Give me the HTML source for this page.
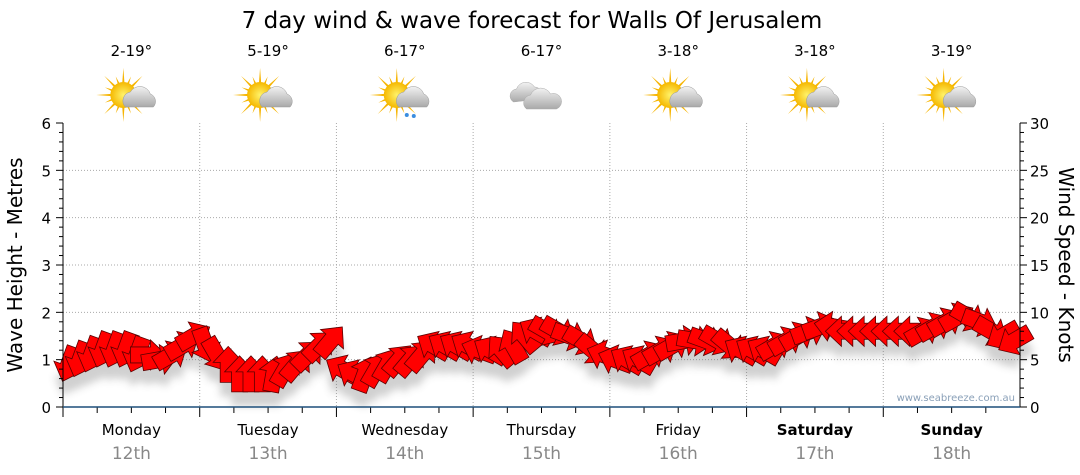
<!DOCTYPE html>
<html><head><meta charset="utf-8"><style>
body{margin:0;background:#fff;}
svg{display:block;font-family:"DejaVu Sans","Liberation Sans",sans-serif;}
</style></head><body>
<svg id="c" width="1080" height="475" viewBox="0 0 1080 475">
<defs>
<filter id="sh" x="-20%" y="-20%" width="140%" height="160%"><feGaussianBlur stdDeviation="4"/></filter>
<radialGradient id="sun" cx="50%" cy="50%" r="50%"><stop offset="0" stop-color="#fff36a"/><stop offset="1" stop-color="#f5b800"/></radialGradient>
<linearGradient id="cl" x1="0" y1="0" x2="0" y2="1"><stop offset="0" stop-color="#f2f2f2"/><stop offset="1" stop-color="#a9a9a9"/></linearGradient>
</defs>
<text x="532" y="28" font-size="23" text-anchor="middle" fill="#000">7 day wind &amp; wave forecast for Walls Of Jerusalem</text>
<g id="grid"></g>
<g id="icons"></g>
<g id="marks"></g>
<g id="axes"></g>
<text transform="translate(22,265) rotate(-90)" font-size="20" text-anchor="middle">Wave Height - Metres</text>
<text transform="translate(1059,265) rotate(90)" font-size="20" text-anchor="middle">Wind Speed - Knots</text>
<text x="1015" y="401" font-size="10" fill="#8aa0b8" text-anchor="end">www.seabreeze.com.au</text>
</svg>
<script>
const days=["Monday","Tuesday","Wednesday","Thursday","Friday","Saturday","Sunday"];
const dates=["12th","13th","14th","15th","16th","17th","18th"];
const temps=["2-19°","5-19°","6-17°","6-17°","3-18°","3-18°","3-19°"];
const icons=["partly","partly","rain","cloud","partly","partly","partly"];
const leftTicks=[0,1,2,3,4,5,6];
const rightTicks=[0,5,10,15,20,25,30];
// wind speed in knots, 2-hourly
const windKnots=[4.5,5,5.5,6,6,6,5.5,5.5,5,5.5,6.5,7.5,
 6.5,5.5,4.5,3.5,3.5,3.5,3.5,4,4.5,5.5,6.5,7,
 4,3.5,3.5,4,4.5,5,5,5.5,6.5,6.5,6.5,6.5,
 6,6,6,6.5,7.5,8,8,8,7.5,7,6,5.5,
 5,5,5,5.5,6,6.5,7,7,7,7,6.5,6,
 6,6,6.5,7,7.5,8,8.5,8.5,8,8,8,8,
 8,8,8,8,8.5,9,9.5,9.5,9,8,7.5,7];
// direction arrow points to, degrees (0=up, clockwise)
const windDir=[200,200,200,200,200,200,200,90,80,60,60,60,
 160,150,0,0,0,0,10,30,40,45,45,40,
 300,300,20,30,30,40,40,40,300,300,300,300,
 290,300,320,330,320,300,120,120,110,120,130,290,
 290,300,300,60,60,60,80,100,110,120,130,300,
 300,300,60,60,60,70,70,280,270,270,270,270,
 270,270,270,60,60,60,60,120,110,120,240,240];
const X0=63,X1=1020,Y0=407,Y1=123;
const xs=i=>X0+(X1-X0)*i/windKnots.length+(X1-X0)/windKnots.length/2;
const yl=v=>Y0-(Y0-Y1)*v/6;
const yr=v=>Y0-(Y0-Y1)*v/30;
const NS="http://www.w3.org/2000/svg";
function mk(t,a,p){const e=document.createElementNS(NS,t);for(const k in a)e.setAttribute(k,a[k]);p.appendChild(e);return e;}
const grid=document.getElementById('grid'),axes=document.getElementById('axes'),marks=document.getElementById('marks'),ic=document.getElementById('icons');
const dw=(X1-X0)/7;
leftTicks.forEach(v=>{if(v>0&&v<6){const l=mk('line',{x1:X0,x2:X1,y1:yl(v),y2:yl(v),stroke:'#aaa','stroke-dasharray':'1,2'},grid);}
 const t=mk('text',{x:51,y:yl(v)+6,'font-size':15,'text-anchor':'end'},axes);t.textContent=v;});
rightTicks.forEach(v=>{const t=mk('text',{x:1030,y:yr(v)+6,'font-size':15},axes);t.textContent=v;});
for(let v=0;v<=6.001;v+=0.2){const L=Math.abs(v-Math.round(v))<0.01?7:4;mk('line',{x1:X0-L,x2:X0,y1:yl(v),y2:yl(v),stroke:'#000'},axes);mk('line',{x1:X1,x2:X1+L,y1:yl(v),y2:yl(v),stroke:'#000'},axes);}
mk('line',{x1:X0,x2:X0,y1:Y1,y2:Y0,stroke:'#000'},axes);mk('line',{x1:X1,x2:X1,y1:Y1,y2:Y0,stroke:'#000'},axes);
for(let d=0;d<7;d++){const x=X0+d*dw;
 if(d>0){const l=mk('line',{x1:x,x2:x,y1:Y1,y2:Y0,stroke:'#aaa','stroke-dasharray':'1,2'},grid);}
 mk('line',{x1:x,x2:x,y1:Y0,y2:Y0+10,stroke:'#000'},axes);
 for(let k=1;k<4;k++)mk('line',{x1:x+k*dw/4,x2:x+k*dw/4,y1:Y0,y2:Y0+6,stroke:'#000'},axes);
 const cx=x+dw/2;
 const a=mk('text',{x:cx,y:435,'font-size':15,'text-anchor':'middle','font-weight':d>=5?'bold':'normal'},axes);a.textContent=days[d];
 const b=mk('text',{x:cx,y:459,'font-size':17,'text-anchor':'middle',fill:'#888'},axes);b.textContent=dates[d];
 const t=mk('text',{x:cx,y:56,'font-size':15,'text-anchor':'middle'},ic);t.textContent=temps[d];
 const g=mk('g',{transform:`translate(${cx},95)`},ic);
 if(icons[d]!=='cloud'){for(let r=0;r<16;r++){const an=r*Math.PI/8,L=r%2?20:27;mk('polygon',{points:`${-8+Math.cos(an+0.15)*9},${Math.sin(an+0.15)*9} ${-8+Math.cos(an)*L},${Math.sin(an)*L} ${-8+Math.cos(an-0.15)*9},${Math.sin(an-0.15)*9}`,fill:'#f6b400'},g);}
  mk('circle',{cx:-8,cy:0,r:13,fill:'url(#sun)'},g);
  mk('path',{d:'M-6,12 a9,9 0 0 1 5,-15 a11,11 0 0 1 20,2 a8,8 0 0 1 3,13 z',fill:'url(#cl)',stroke:'#999','stroke-width':0.5},g);
  if(icons[d]==='rain'){mk('circle',{cx:2,cy:20,r:2,fill:'#3a8de0'},g);mk('circle',{cx:9,cy:21,r:2,fill:'#3a8de0'},g);}
 }else{mk('path',{d:'M-28,7 a7,7 0 0 1 3,-13 a10,10 0 0 1 18,-2 a7,7 0 0 1 5,12 z',fill:'url(#cl)',stroke:'#aaa','stroke-width':0.5},g);
  mk('path',{d:'M-15,14 a8,8 0 0 1 4,-14 a11,11 0 0 1 20,-1 a8,8 0 0 1 6,15 z',fill:'url(#cl)',stroke:'#aaa','stroke-width':0.5},g);}
}
mk('line',{x1:X0,x2:X1,y1:Y0,y2:Y0,stroke:'#1d4f7a','stroke-width':1.5},axes);
const arrow='M-18,-8 L2,-8 L2,-15 L18,0 L2,15 L2,8 L-18,8 Z';
const shg=mk('g',{filter:'url(#sh)',opacity:0.3},marks);
windKnots.forEach((v,i)=>{const x=xs(i),y=yr(v);mk('path',{d:arrow,transform:`translate(${x},${y+14}) rotate(${windDir[i]-90})`,fill:'#666'},shg);});
windKnots.forEach((v,i)=>{const x=xs(i),y=yr(v);const p=mk('path',{d:arrow,transform:`translate(${x},${y}) rotate(${windDir[i]-90})`,fill:'#f00',stroke:'#5a0000','stroke-width':0.8},marks);
 
 });
</script>
</body></html>
